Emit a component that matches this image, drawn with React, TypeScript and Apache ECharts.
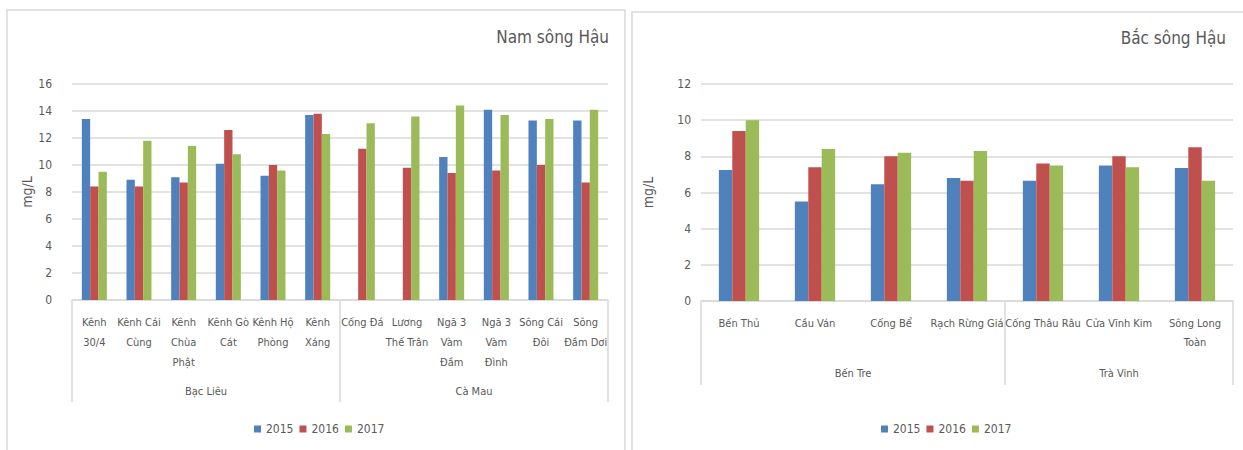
import React, { useEffect, useRef } from "react";
import * as echarts from "echarts";

const FONT = "'DejaVu Sans Condensed', 'Liberation Sans Narrow', sans-serif";
const TXT = "#595959";
const GRID = "#d9d9d9";
const COLORS = ["#4f81bd", "#c0504d", "#9bbb59"];

const years = ["2015", "2016", "2017"];

// Nam sông Hậu
const southCategories = [
  "Kênh\n30/4", "Kênh Cái\nCùng", "Kênh\nChùa\nPhật", "Kênh Gò\nCát", "Kênh Hộ\nPhòng", "Kênh\nXáng",
  "Cống Đá", "Lương\nThế Trân", "Ngã 3\nVàm\nĐầm", "Ngã 3\nVàm\nĐình", "Sông Cái\nĐôi", "Sông\nĐầm Dơi",
];
const southGroups = ["Bạc Liêu", "Cà Mau"];
const southGroupSizes = [6, 6];
const south2015 = [13.4, 8.9, 9.1, 10.1, 9.2, 13.7, null, null, 10.6, 14.1, 13.3, 13.3];
const south2016 = [8.4, 8.4, 8.7, 12.6, 10.0, 13.8, 11.2, 9.8, 9.4, 9.6, 10.0, 8.7];
const south2017 = [9.5, 11.8, 11.4, 10.8, 9.6, 12.3, 13.1, 13.6, 14.4, 13.7, 13.4, 14.1];
const southTicks = { min: 0, max: 16, interval: 2 };

// Bắc sông Hậu
const northCategories = [
  "Bến Thủ", "Cầu Ván", "Cống Bể", "Rạch Rừng Giá", "Cống Thâu Râu", "Cửa Vĩnh Kim", "Sông Long\nToàn",
];
const northGroups = ["Bến Tre", "Trà Vinh"];
const northGroupSizes = [4, 3];
const north2015 = [7.25, 5.5, 6.45, 6.8, 6.65, 7.5, 7.35];
const north2016 = [9.4, 7.4, 8.0, 6.65, 7.6, 8.0, 8.5];
const north2017 = [10.0, 8.4, 8.2, 8.3, 7.5, 7.4, 6.65];
const northTicks = { min: 0, max: 12, interval: 2 };

function boundaries(sizes: number[]) {
  const b = [0];
  sizes.forEach((s) => b.push(b[b.length - 1] + s));
  return b;
}
function mids(sizes: number[]) {
  const b = boundaries(sizes);
  return sizes.map((_, i) => (b[i] + b[i + 1]) / 2);
}

export default function App() {
  const ref = useRef<HTMLDivElement>(null);
  useEffect(() => {
    document.body.style.margin = "0";
    const chart = echarts.init(ref.current!, null, { renderer: "svg" });

    const sMids = mids(southGroupSizes);
    const nMids = mids(northGroupSizes);

    const catAxis = (gridIndex: number, data: string[], margin: number, lineHeight: number) => ({
      gridIndex,
      type: "category",
      data,
      axisLine: { lineStyle: { color: GRID, width: 1.5 } },
      axisTick: { show: false },
      axisLabel: {
        interval: 0,
        color: TXT,
        fontSize: 11,
        fontFamily: FONT,
        lineHeight,
        margin,
      },
    });

    const groupAxis = (
      gridIndex: number,
      sizes: number[],
      names: string[],
      midVals: number[],
      tickLen: number,
      labelMargin: number
    ) => ({
      gridIndex,
      type: "value",
      position: "bottom",
      min: 0,
      max: sizes.reduce((a, b) => a + b, 0),
      axisLine: { show: false },
      splitLine: { show: false },
      axisTick: {
        show: true,
        customValues: boundaries(sizes),
        length: tickLen,
        lineStyle: { color: GRID, width: 1.5 },
      },
      axisLabel: {
        customValues: midVals,
        formatter: (v: number) => names[midVals.indexOf(v)] ?? "",
        color: TXT,
        fontSize: 11,
        fontFamily: FONT,
        margin: labelMargin,
      },
    });

    const valAxis = (gridIndex: number, ticks: any, labelMargin: number, nameGap: number) => ({
      gridIndex,
      type: "value",
      min: ticks.min,
      max: ticks.max,
      interval: ticks.interval,
      name: "mg/L",
      nameLocation: "middle",
      nameGap,
      nameTextStyle: { color: TXT, fontSize: 14, fontFamily: FONT },
      axisLine: { show: false },
      axisTick: { show: false },
      axisLabel: { color: TXT, fontSize: 12, fontFamily: FONT, margin: labelMargin },
      splitLine: { lineStyle: { color: GRID, width: 1.5 } },
    });

    const southData = [south2015, south2016, south2017];
    const northData = [north2015, north2016, north2017];

    const series: any[] = [];
    years.forEach((y, i) => {
      series.push({
        type: "bar",
        name: y,
        xAxisIndex: 0,
        yAxisIndex: 0,
        data: southData[i],
        barGap: "0%",
        barCategoryGap: "44%",
        itemStyle: { color: COLORS[i] },
      });
    });
    years.forEach((y, i) => {
      series.push({
        type: "bar",
        name: y,
        xAxisIndex: 2,
        yAxisIndex: 1,
        data: northData[i],
        barGap: "0%",
        barCategoryGap: "47%",
        itemStyle: { color: COLORS[i] },
      });
    });

    const legendCommon = {
      data: years,
      icon: "rect",
      itemWidth: 7,
      itemHeight: 7,
      itemGap: 6,
      top: 423,
      padding: 0,
      textStyle: { color: TXT, fontSize: 12, fontFamily: FONT },
      selectedMode: false,
    };

    chart.setOption({
      animation: false,
      color: COLORS,
      textStyle: { fontFamily: FONT },
      graphic: [
        {
          type: "rect",
          shape: { x: 7, y: 10, width: 618, height: 460 },
          style: { fill: "none", stroke: GRID, lineWidth: 1.5 },
          silent: true,
        },
        {
          type: "rect",
          shape: { x: 632, y: 12, width: 620, height: 460 },
          style: { fill: "none", stroke: GRID, lineWidth: 1.5 },
          silent: true,
        },
      ],
      title: [
        {
          text: "Nam sông Hậu",
          right: 634,
          top: 28,
          padding: 0,
          textStyle: { color: TXT, fontSize: 17, fontWeight: "normal", fontFamily: FONT },
        },
        {
          text: "Bắc sông Hậu",
          right: 17,
          top: 29,
          padding: 0,
          textStyle: { color: TXT, fontSize: 17, fontWeight: "normal", fontFamily: FONT },
        },
      ],
      legend: [
        { ...legendCommon, left: 254 },
        { ...legendCommon, left: 881 },
      ],
      grid: [
        { left: 72, right: 635, top: 84, bottom: 150 },
        { left: 701, right: 10, top: 84, bottom: 149 },
      ],
      xAxis: [
        catAxis(0, southCategories, 12, 20),
        groupAxis(0, southGroupSizes, southGroups, sMids, 102, 86),
        catAxis(1, northCategories, 13, 19),
        groupAxis(1, northGroupSizes, northGroups, nMids, 84, 67),
      ],
      yAxis: [valAxis(0, southTicks, 20, 27), valAxis(1, northTicks, 10, 46)],
      series,
    });
    return () => chart.dispose();
  }, []);
  return <div ref={ref} style={{ width: 1243, height: 450 }} />;
}
